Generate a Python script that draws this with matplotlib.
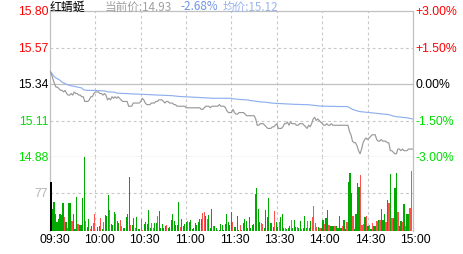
import numpy as np
import matplotlib
matplotlib.use("Agg")
import matplotlib.pyplot as plt

# ---- data (one value per minute, 09:30 .. 15:00) ----
PREV_CLOSE = 15.34
price = [
    15.42, 15.40, 15.37, 15.34, 15.32, 15.32, 15.31, 15.30, 15.30, 15.29,
    15.30, 15.28, 15.27, 15.27, 15.28, 15.27, 15.29, 15.28, 15.28, 15.27,
    15.27, 15.26, 15.26, 15.23, 15.23, 15.23, 15.24, 15.26, 15.26, 15.28,
    15.29, 15.29, 15.29, 15.28, 15.28, 15.27, 15.28, 15.27, 15.24, 15.25,
    15.24, 15.26, 15.25, 15.26, 15.25, 15.26, 15.25, 15.24, 15.23, 15.23,
    15.23, 15.23, 15.20, 15.20, 15.20, 15.22, 15.22, 15.22, 15.22, 15.22,
    15.23, 15.25, 15.24, 15.22, 15.21, 15.21, 15.21, 15.22, 15.22, 15.22,
    15.23, 15.23, 15.24, 15.24, 15.24, 15.23, 15.22, 15.23, 15.23, 15.22,
    15.22, 15.22, 15.21, 15.21, 15.20, 15.20, 15.20, 15.20, 15.20, 15.20,
    15.19, 15.19, 15.19, 15.19, 15.19, 15.19, 15.19, 15.19, 15.19, 15.19,
    15.18, 15.18, 15.19, 15.20, 15.20, 15.20, 15.19, 15.20, 15.20, 15.20,
    15.20, 15.20, 15.21, 15.20, 15.20, 15.20, 15.19, 15.17, 15.16, 15.16,
    15.16, 15.18, 15.16, 15.15, 15.15, 15.16, 15.16, 15.16, 15.16, 15.15,
    15.14, 15.14, 15.14, 15.14, 15.14, 15.14, 15.12, 15.08, 15.08, 15.09,
    15.09, 15.09, 15.08, 15.07, 15.06, 15.06, 15.06, 15.07, 15.07, 15.08,
    15.09, 15.06, 15.06, 15.06, 15.07, 15.09, 15.09, 15.10, 15.08, 15.10,
    15.09, 15.09, 15.09, 15.08, 15.08, 15.09, 15.09, 15.09, 15.08, 15.07,
    15.06, 15.08, 15.07, 15.09, 15.12, 15.13, 15.11, 15.12, 15.11, 15.10,
    15.09, 15.08, 15.08, 15.09, 15.08, 15.08, 15.09, 15.08, 15.08, 15.08,
    15.08, 15.08, 15.08, 15.08, 15.08, 15.08, 15.08, 15.08, 15.04, 15.02,
    14.98, 14.97, 14.97, 14.95, 14.92, 14.90, 14.93, 14.97, 14.99, 15.00,
    14.99, 15.00, 15.01, 15.02, 15.02, 15.02, 14.99, 14.98, 14.98, 14.99,
    14.98, 14.98, 14.98, 14.97, 14.97, 14.92, 14.92, 14.91, 14.90, 14.90,
    14.93, 14.93, 14.92, 14.93, 14.92, 14.92, 14.92, 14.93, 14.93, 14.93,
    14.93,
]
avg_price = [
    15.420, 15.410, 15.395, 15.385, 15.378, 15.372, 15.368, 15.360, 15.352, 15.346,
    15.343, 15.338, 15.334, 15.331, 15.329, 15.327, 15.325, 15.323, 15.321, 15.319,
    15.317, 15.315, 15.305, 15.302, 15.301, 15.300, 15.300, 15.300, 15.300, 15.300,
    15.299, 15.299, 15.298, 15.298, 15.297, 15.297, 15.296, 15.295, 15.290, 15.290,
    15.290, 15.289, 15.289, 15.288, 15.283, 15.282, 15.282, 15.281, 15.281, 15.280,
    15.280, 15.280, 15.279, 15.278, 15.278, 15.277, 15.277, 15.277, 15.276, 15.276,
    15.275, 15.275, 15.275, 15.274, 15.274, 15.273, 15.273, 15.272, 15.272, 15.271,
    15.271, 15.270, 15.270, 15.270, 15.269, 15.269, 15.268, 15.268, 15.268, 15.267,
    15.267, 15.266, 15.265, 15.264, 15.263, 15.262, 15.261, 15.261, 15.260, 15.260,
    15.259, 15.259, 15.258, 15.258, 15.257, 15.257, 15.256, 15.256, 15.255, 15.255,
    15.254, 15.254, 15.253, 15.253, 15.252, 15.252, 15.251, 15.250, 15.250, 15.250,
    15.250, 15.250, 15.250, 15.250, 15.250, 15.250, 15.250, 15.250, 15.250, 15.250,
    15.250, 15.247, 15.246, 15.245, 15.244, 15.243, 15.242, 15.242, 15.241, 15.241,
    15.240, 15.240, 15.236, 15.235, 15.234, 15.233, 15.232, 15.230, 15.229, 15.228,
    15.227, 15.226, 15.226, 15.224, 15.223, 15.222, 15.221, 15.219, 15.219, 15.218,
    15.218, 15.217, 15.217, 15.216, 15.216, 15.215, 15.215, 15.214, 15.214, 15.213,
    15.213, 15.212, 15.212, 15.212, 15.211, 15.211, 15.211, 15.210, 15.210, 15.210,
    15.210, 15.209, 15.208, 15.207, 15.206, 15.205, 15.204, 15.203, 15.202, 15.201,
    15.201, 15.200, 15.200, 15.200, 15.200, 15.199, 15.199, 15.199, 15.199, 15.199,
    15.198, 15.198, 15.198, 15.198, 15.198, 15.198, 15.198, 15.197, 15.190, 15.186,
    15.180, 15.177, 15.174, 15.171, 15.168, 15.166, 15.165, 15.164, 15.163, 15.162,
    15.161, 15.160, 15.159, 15.158, 15.157, 15.156, 15.155, 15.154, 15.153, 15.152,
    15.151, 15.150, 15.149, 15.148, 15.147, 15.144, 15.141, 15.138, 15.136, 15.134,
    15.133, 15.132, 15.131, 15.130, 15.129, 15.128, 15.127, 15.125, 15.123, 15.121,
    15.120,
]
volume = [
    99, 45, 58, 34, 18, 24, 34, 32, 57, 29,
    18, 6, 57, 57, 20, 34, 4, 68, 14, 12,
    12, 67, 149, 21, 9, 24, 4, 11, 16, 34,
    1, 9, 11, 26, 4, 19, 32, 30, 73, 43,
    14, 13, 38, 34, 20, 16, 22, 10, 6, 6,
    29, 34, 109, 12, 12, 26, 6, 29, 4, 5,
    24, 3, 14, 18, 14, 43, 7, 16, 7, 16,
    16, 31, 41, 7, 14, 7, 11, 12, 7, 9,
    23, 34, 21, 12, 13, 59, 9, 24, 10, 14,
    18, 21, 19, 22, 4, 6, 16, 13, 18, 24,
    24, 37, 38, 30, 24, 32, 6, 45, 11, 11,
    6, 3, 2, 14, 12, 3, 14, 34, 18, 12,
    39, 18, 9, 9, 30, 3, 13, 2, 16, 24,
    21, 6, 29, 6, 13, 14, 76, 88, 45, 18,
    16, 14, 6, 43, 29, 66, 16, 16, 9, 41,
    18, 9, 19, 28, 34, 6, 6, 4, 6, 11,
    22, 6, 22, 9, 9, 6, 21, 4, 6, 30,
    6, 21, 7, 21, 29, 51, 16, 9, 9, 7,
    6, 22, 14, 26, 43, 13, 11, 11, 10, 10,
    11, 7, 31, 6, 11, 23, 4, 18, 99, 118,
    77, 31, 4, 34, 98, 90, 114, 13, 14, 28,
    31, 11, 12, 4, 16, 10, 10, 21, 23, 22,
    45, 22, 34, 18, 63, 56, 116, 26, 26, 87,
    118, 38, 11, 21, 18, 55, 11, 34, 34, 46,
    121,
]
# k = opening auction, r = up minute, g = down minute
bar_side = (
    "kggggggggr" "grggrgggrg" "gggrggrgrr" "gggrgrgggr" "gggrggrrgg"
    "gggrggrggg" "rrgggggrrg" "grgggggrgg" "ggggggrggg" "grgggggggg"
    "grrgrgggrg" "grgggggggg" "grggggrggg" "gggggggggg" "rrgggggggr"
    "ggrgggrggg" "rgggrggrgg" "grggrrrrgr" "ggrggrgggr" "ggggrggrgg"
    "grggggrrrg" "rgrgrggrgr" "gggrgrgrgg" "grggrgrggr" "r"
)
time_ticks = [0, 30, 60, 90, 120, 150, 180, 210, 240]
time_labels = ["09:30", "10:00", "10:30", "11:00", "11:30", "13:30", "14:00", "14:30", "15:00"]
price_ticks = [15.80, 15.57, 15.34, 15.11, 14.88]
pct_labels = ["+3.00%", "+1.50%", "0.00%", "-1.50%", "-3.00%"]
vol_tick = 77
name = "红蜻蜓"
last_price = "14.93"
last_pct = "-2.68%"
avg_last = "15.12"

RED = "#ff0000"
GREEN = "#00dd00"
GRID = "#c8c8c8"
BORDER = "#c0c0c0"
BAR_COL = {"k": "#000000", "r": "#ff5050", "g": "#00a800"}

W, H = 463, 255
L, R = 50, 413
fig = plt.figure(figsize=(W / 100, H / 100), dpi=100)
ax = fig.add_axes([L / W, (H - 158) / H, (R - L) / W, 146 / H])
axv = fig.add_axes([L / W, (H - 232) / H, (R - L) / W, 74 / H])

num = "Liberation Sans"
cjk = ["Noto Sans CJK SC", "DejaVu Sans"]

t = np.arange(len(price))
ax.plot(t, avg_price, color="#8fb0ee", lw=0.85, zorder=3)
ax.plot(t, price, color="#999999", lw=0.85, zorder=4)
ax.set_xlim(0, 240)
ax.set_ylim(price_ticks[-1], price_ticks[0])

# grid
for a in (ax, axv):
    for x in time_ticks[1:-1]:
        a.axvline(x, color=GRID, lw=0.8, ls=(0, (2.5, 2.5)), zorder=1)
ax.axhline(price_ticks[1], color=GRID, lw=0.8, ls=(0, (2.5, 2.5)), zorder=1)
ax.axhline(price_ticks[3], color=GRID, lw=0.8, ls=(0, (2.5, 2.5)), zorder=1)
ax.axhline(PREV_CLOSE, color=BORDER, lw=0.9, zorder=1)
for s in ax.spines.values():
    s.set_color(BORDER)
    s.set_linewidth(0.9)
ax.set_xticks([])
ax.set_yticks([])

# price / percent labels
lab_cols = [RED, RED, "black", GREEN, GREEN]
for p, pl, c in zip(price_ticks, pct_labels, lab_cols):
    ax.text(-1.6 / 1.5125, p, f"{p:.2f}", ha="right", va="center", color=c,
            fontsize=8.8, family=num, clip_on=False)
    ax.text(240 + 2.2 / 1.5125, p, pl, ha="left", va="center", color=c,
            fontsize=8.8, family=num, clip_on=False)

# volume
bx = 0.8 + np.arange(len(volume)) * 0.992
axv.bar(bx, volume, width=0.95, color=[BAR_COL[c] for c in bar_side], lw=0, zorder=3)
axv.set_xlim(0, 240)
axv.set_ylim(0, 150)
axv.axhline(vol_tick, color=GRID, lw=0.8, ls=(0, (2.5, 2.5)), zorder=1)
axv.spines["top"].set_visible(False)
axv.spines["bottom"].set_visible(False)
for s in ("left", "right"):
    axv.spines[s].set_color(BORDER)
    axv.spines[s].set_linewidth(0.9)
axv.set_xticks([])
axv.set_yticks([])
axv.text(-1.6 / 1.5125, vol_tick, str(vol_tick), ha="right", va="center",
         color="#b4b4b4", fontsize=8.8, family=num, clip_on=False)

# time labels
for x, lab in zip(time_ticks, time_labels):
    axv.text(x + 2.9 - 0.0065 * x, -8 / 74 * 150, lab, ha="center", va="center",
             fontsize=8.8, family=num, color="black", clip_on=False)

# header
yb = (H - 10.5) / H
fig.text(L / W, yb, name, color="black", fontsize=8.6, family=cjk, va="baseline")
fig.text(105 / W, yb, "当前价:" + last_price, color="#a0a0a0", fontsize=8.4, family=cjk, va="baseline")
fig.text(180 / W, yb, last_pct, color="#6f93e6", fontsize=8.4, family=cjk, va="baseline")
fig.text(223 / W, yb, "均价:" + avg_last, color="#9ab4ee", fontsize=8.4, family=cjk, va="baseline")

fig.savefig("out.png", dpi=100)
